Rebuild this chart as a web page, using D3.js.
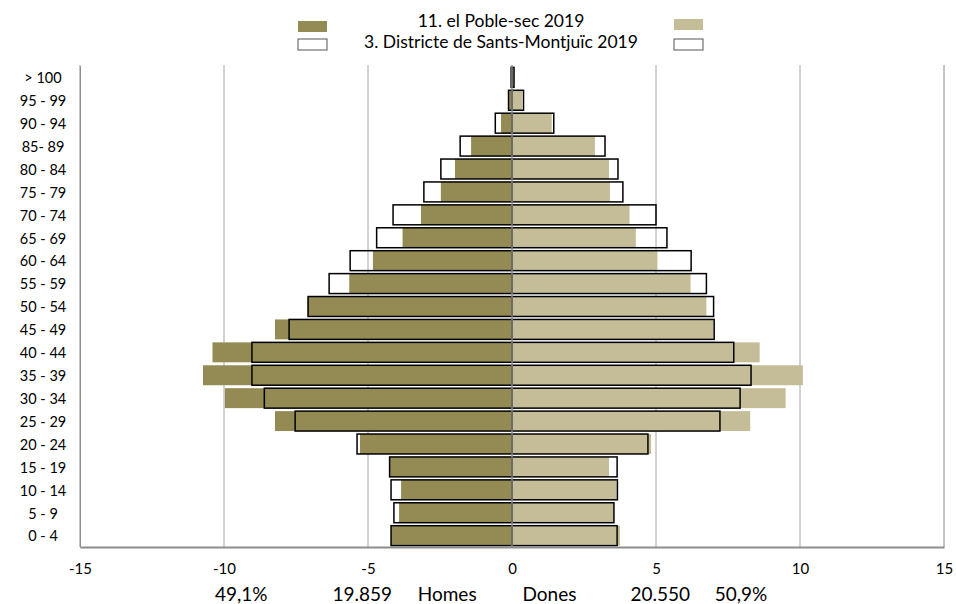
<!DOCTYPE html>
<html>
<head>
<meta charset="utf-8">
<script src="https://cdn.jsdelivr.net/npm/d3@7"></script>
<style>
    body { margin: 0; background: #fff; }
    svg { font-family: Lato, "Open Sans", sans-serif; }
    .axis text { fill: #000; }
</style>
</head>
<body>
<div class="pyramid-chart"></div>
<script>
// age groups, youngest first
const ageGroups = ["0 - 4", "5 - 9", "10 - 14", "15 - 19", "20 - 24", "25 - 29", "30 - 34", "35 - 39",
    "40 - 44", "45 - 49", "50 - 54", "55 - 59", "60 - 64", "65 - 69", "70 - 74", "75 - 79",
    "80 - 84", "85- 89", "90 - 94", "95 - 99", "> 100"];

// % of each sex, el Poble-sec 2019
const pobleMen = [4.2, 3.92, 3.85, 4.27, 5.28, 8.23, 9.97, 10.73, 10.4, 8.23, 7.1, 5.65, 4.83, 3.8, 3.16, 2.47, 1.98, 1.42, 0.38, 0.1, 0.03];
const pobleWomen = [3.75, 3.54, 3.63, 3.37, 4.83, 8.27, 9.5, 10.1, 8.6, 7.0, 6.75, 6.2, 5.05, 4.3, 4.08, 3.4, 3.37, 2.88, 1.38, 0.35, 0.07];

// % of each sex, Sants-Montjuïc district 2019
const districtMen = [4.2, 4.1, 4.2, 4.25, 5.38, 7.53, 8.6, 9.03, 9.03, 7.74, 7.08, 6.35, 5.62, 4.7, 4.13, 3.06, 2.47, 1.8, 0.58, 0.12, 0.03];
const districtWomen = [3.65, 3.54, 3.66, 3.65, 4.72, 7.22, 7.92, 8.3, 7.7, 7.02, 7.0, 6.75, 6.22, 5.38, 5.0, 3.85, 3.68, 3.23, 1.45, 0.4, 0.07];

const xTicks = [-15, -10, -5, 0, 5, 10, 15];
const legendNames = ["11. el Poble-sec 2019", "3. Districte de Sants-Montjuïc 2019"];
const footerLabels = [
    { text: "49,1%", at: -9.4 },
    { text: "19.859", at: -5.2 },
    { text: "Homes", at: -2.25 },
    { text: "Dones", at: 1.3 },
    { text: "20.550", at: 5.15 },
    { text: "50,9%", at: 7.95 }
];

const colMen = "#948a54", colWomen = "#c4bd97";

const width = 956, height = 604,
    margin = { top: 66, right: 12, bottom: 57, left: 80 };

const svg = d3.select(".pyramid-chart").append("svg")
    .attr("width", width).attr("height", height);

const x = d3.scaleLinear().domain([-15, 15]).range([margin.left, width - margin.right]),
    y = d3.scaleBand().domain(ageGroups.slice().reverse())
        .range([margin.top, height - margin.bottom]).paddingInner(0.13).paddingOuter(0.06);

const rows = ageGroups.map((g, i) => ({
    group: g,
    pm: pobleMen[i], pw: pobleWomen[i],
    dm: districtMen[i], dw: districtWomen[i]
}));

// vertical gridlines
svg.append("g").selectAll("line")
    .data(xTicks.filter(t => t !== 0))
    .enter().append("line")
    .attr("x1", d => x(d)).attr("x2", d => x(d))
    .attr("y1", margin.top - 1).attr("y2", height - margin.bottom)
    .attr("stroke", d => Math.abs(d) === 15 ? "#8c8c8c" : "#a6a6a6")
    .attr("stroke-width", 1);

// filled bars, Poble-sec
const bars = svg.append("g");
bars.selectAll(".men").data(rows).enter().append("rect")
    .attr("x", d => x(-d.pm)).attr("y", d => y(d.group))
    .attr("width", d => x(0) - x(-d.pm)).attr("height", y.bandwidth())
    .attr("fill", colMen);
bars.selectAll(".women").data(rows).enter().append("rect")
    .attr("x", x(0)).attr("y", d => y(d.group))
    .attr("width", d => x(d.pw) - x(0)).attr("height", y.bandwidth())
    .attr("fill", colWomen);

// outlined bars, district
const outlines = svg.append("g").attr("fill", "none").attr("stroke", "#000").attr("stroke-width", 1.5);
outlines.selectAll(".dmen").data(rows).enter().append("rect")
    .attr("x", d => x(-d.dm)).attr("y", d => y(d.group))
    .attr("width", d => x(0) - x(-d.dm)).attr("height", y.bandwidth());
outlines.selectAll(".dwomen").data(rows).enter().append("rect")
    .attr("x", x(0)).attr("y", d => y(d.group))
    .attr("width", d => x(d.dw) - x(0)).attr("height", y.bandwidth());

// centre axis
svg.append("line")
    .attr("x1", x(0)).attr("x2", x(0))
    .attr("y1", margin.top - 1).attr("y2", height - margin.bottom)
    .attr("stroke", "#8c8c8c").attr("stroke-width", 1.5);

// bottom axis
const xAxis = svg.append("g")
    .attr("class", "axis")
    .attr("transform", "translate(0," + (height - margin.bottom) + ")")
    .call(d3.axisBottom(x).tickValues(xTicks).tickSize(0).tickPadding(16).tickFormat(d => String(d)));
xAxis.select(".domain").attr("stroke", "#8c8c8c").attr("stroke-width", 2);
xAxis.selectAll("text").attr("font-size", 15).attr("font-family", "Lato, sans-serif");

// left axis
const yAxis = svg.append("g")
    .attr("class", "axis")
    .attr("transform", "translate(" + margin.left + ",0)")
    .call(d3.axisLeft(y).tickSize(0));
yAxis.select(".domain").attr("stroke", "#8c8c8c").attr("stroke-width", 1);
yAxis.selectAll("text")
    .attr("font-size", 14.5).attr("font-family", "Lato, sans-serif")
    .attr("text-anchor", "middle").attr("x", -37).attr("dy", "0.4em");

// footer totals
svg.append("g").selectAll("text")
    .data(footerLabels).enter().append("text")
    .attr("x", d => x(d.at)).attr("y", 601)
    .attr("text-anchor", "middle").attr("font-size", 19)
    .text(d => d.text);

// legend
const legend = svg.append("g");
legend.selectAll("text").data(legendNames).enter().append("text")
    .attr("x", 501).attr("y", (d, i) => 27 + i * 20.5)
    .attr("text-anchor", "middle").attr("font-size", 17.5)
    .text(d => d);
const swatches = [
    { x: 298, y: 21, fill: colMen, stroke: "none" },
    { x: 298, y: 39, fill: "#fff", stroke: "#555" },
    { x: 674, y: 19, fill: colWomen, stroke: "none" },
    { x: 674, y: 39, fill: "#fff", stroke: "#555" }
];
legend.selectAll("rect").data(swatches).enter().append("rect")
    .attr("x", d => d.x).attr("y", d => d.y)
    .attr("width", 29).attr("height", 11)
    .attr("fill", d => d.fill).attr("stroke", d => d.stroke);
</script>
</body>
</html>
